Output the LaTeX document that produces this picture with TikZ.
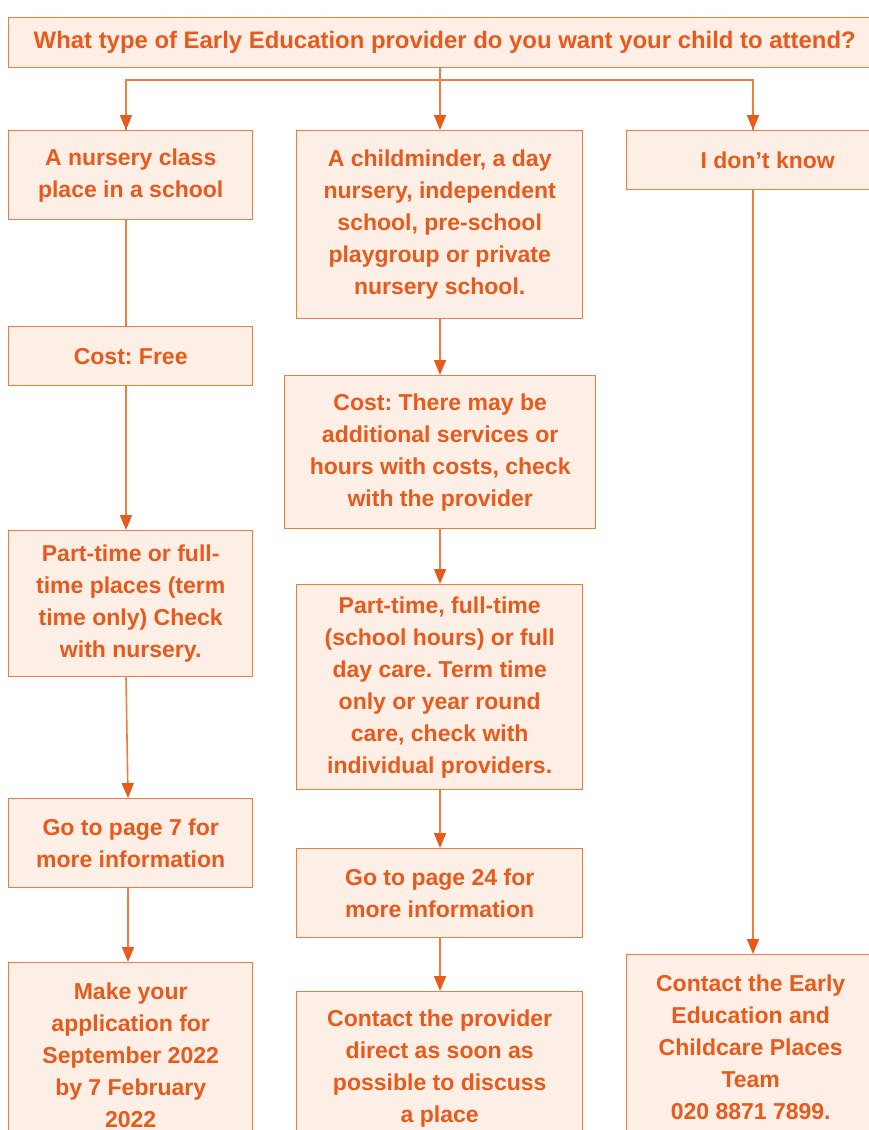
\documentclass[tikz,border=0pt]{standalone}
\usepackage{fontspec}
\setmainfont{Liberation Sans}
\usetikzlibrary{arrows.meta}
\usetikzlibrary{positioning}

\definecolor{flowtext}{HTML}{E85A1B}
\definecolor{flowfill}{HTML}{FDEFE6}
\definecolor{flowline}{HTML}{EE7D40}

\tikzset{
  box/.style={draw=flowline, line width=1.4pt, fill=flowfill, text=flowtext,
    font=\fontsize{23}{32}\selectfont\bfseries\frenchspacing, align=center,
    anchor=north west, inner sep=0pt},
  arr/.style={draw=flowline, line width=1.6pt,
    -{Triangle[length=15pt,width=12pt,color=flowtext]}},
  link/.style={draw=flowline, line width=1.6pt}
}

\begin{document}
\begin{tikzpicture}[x=1pt,y=-1pt]
        \useasboundingbox (0,0) rectangle (869,1130);
        \clip (0,0) rectangle (869,1130);

        % question
        \node[box, minimum width=872pt, minimum height=50pt,
              font=\fontsize{23.9}{32}\selectfont\bfseries]
              (question) at (8,17) {What type of Early Education provider do you want your child to attend?};

        % columns
        \coordinate (c1) at (126,0);
        \coordinate (c2) at (440,0);
        \coordinate (c3) at (753,0);
        \coordinate (split) at (440,80);

        % left column
        \node[box, minimum width=244pt, minimum height=89pt] (nursery) at (8,130) {A nursery class\\place in a school};
        \node[box, minimum width=244pt, minimum height=59pt] (free) at (8,326) {Cost: Free};
        \node[box, minimum width=244pt, minimum height=146pt] (termtime) at (8,530) {Part-time or full-\\time places (term\\time only) Check\\with nursery.};
        \node[box, minimum width=244pt, minimum height=89pt] (page7) at (8,798) {Go to page 7 for\\more information};
        \node[box, minimum width=244pt, minimum height=186pt] (apply) at (8,962) {Make your\\application for\\September 2022\\by 7 February\\2022};

        % middle column
        \node[box, minimum width=286pt, minimum height=188pt] (minder) at (296,130) {A childminder, a day\\nursery, independent\\school, pre-school\\playgroup or private\\nursery school.};
        \node[box, minimum width=311pt, minimum height=153pt] (extras) at (284,375) {Cost: There may be\\additional services or\\hours with costs, check\\with the provider};
        \node[box, minimum width=286pt, minimum height=205pt] (hours) at (296,584) {Part-time, full-time\\(school hours) or full\\day care. Term time\\only or year round\\care, check with\\individual providers.};
        \node[box, minimum width=286pt, minimum height=89pt] (page24) at (296,848) {Go to page 24 for\\more information};
        \node[box, minimum width=286pt, minimum height=154pt] (provider) at (296,991) {Contact the provider\\direct as soon as\\possible to discuss\\a place};

        % right column
        \node[box, minimum width=282pt, minimum height=59pt] (unsure) at (626,130) {I don’t know};
        \node[box, minimum width=248pt, minimum height=186pt] (team) at (626,954) {Contact the Early\\Education and\\Childcare Places\\Team\\020 8871 7899.};

        % connectors
        \draw[link] (split |- question.south) -- (split);
        \draw[link] (split) -| (c1 |- nursery.north) coordinate (top1);
        \draw[link] (split) -| (c3 |- unsure.north) coordinate (top3);
        \draw[arr] (split) -- (c2 |- minder.north);
        \draw[arr] (c1 |- 0,120) -- (c1 |- nursery.north);
        \draw[arr] (c3 |- 0,120) -- (c3 |- unsure.north);

        \draw[link] (c1 |- nursery.south) -- (c1 |- free.north);
        \draw[arr] (c1 |- free.south) -- (c1 |- termtime.north);
        \draw[arr] (c1 |- termtime.south) -- ([xshift=2pt]c1 |- page7.north);
        \draw[arr] ([xshift=2pt]c1 |- page7.south) -- ([xshift=2pt]c1 |- apply.north);

        \draw[arr] (c2 |- minder.south) -- (c2 |- extras.north);
        \draw[arr] (c2 |- extras.south) -- (c2 |- hours.north);
        \draw[arr] (c2 |- hours.south) -- (c2 |- page24.north);
        \draw[arr] (c2 |- page24.south) -- (c2 |- provider.north);

        \draw[arr] (c3 |- unsure.south) -- (c3 |- team.north);
\end{tikzpicture}
\end{document}
